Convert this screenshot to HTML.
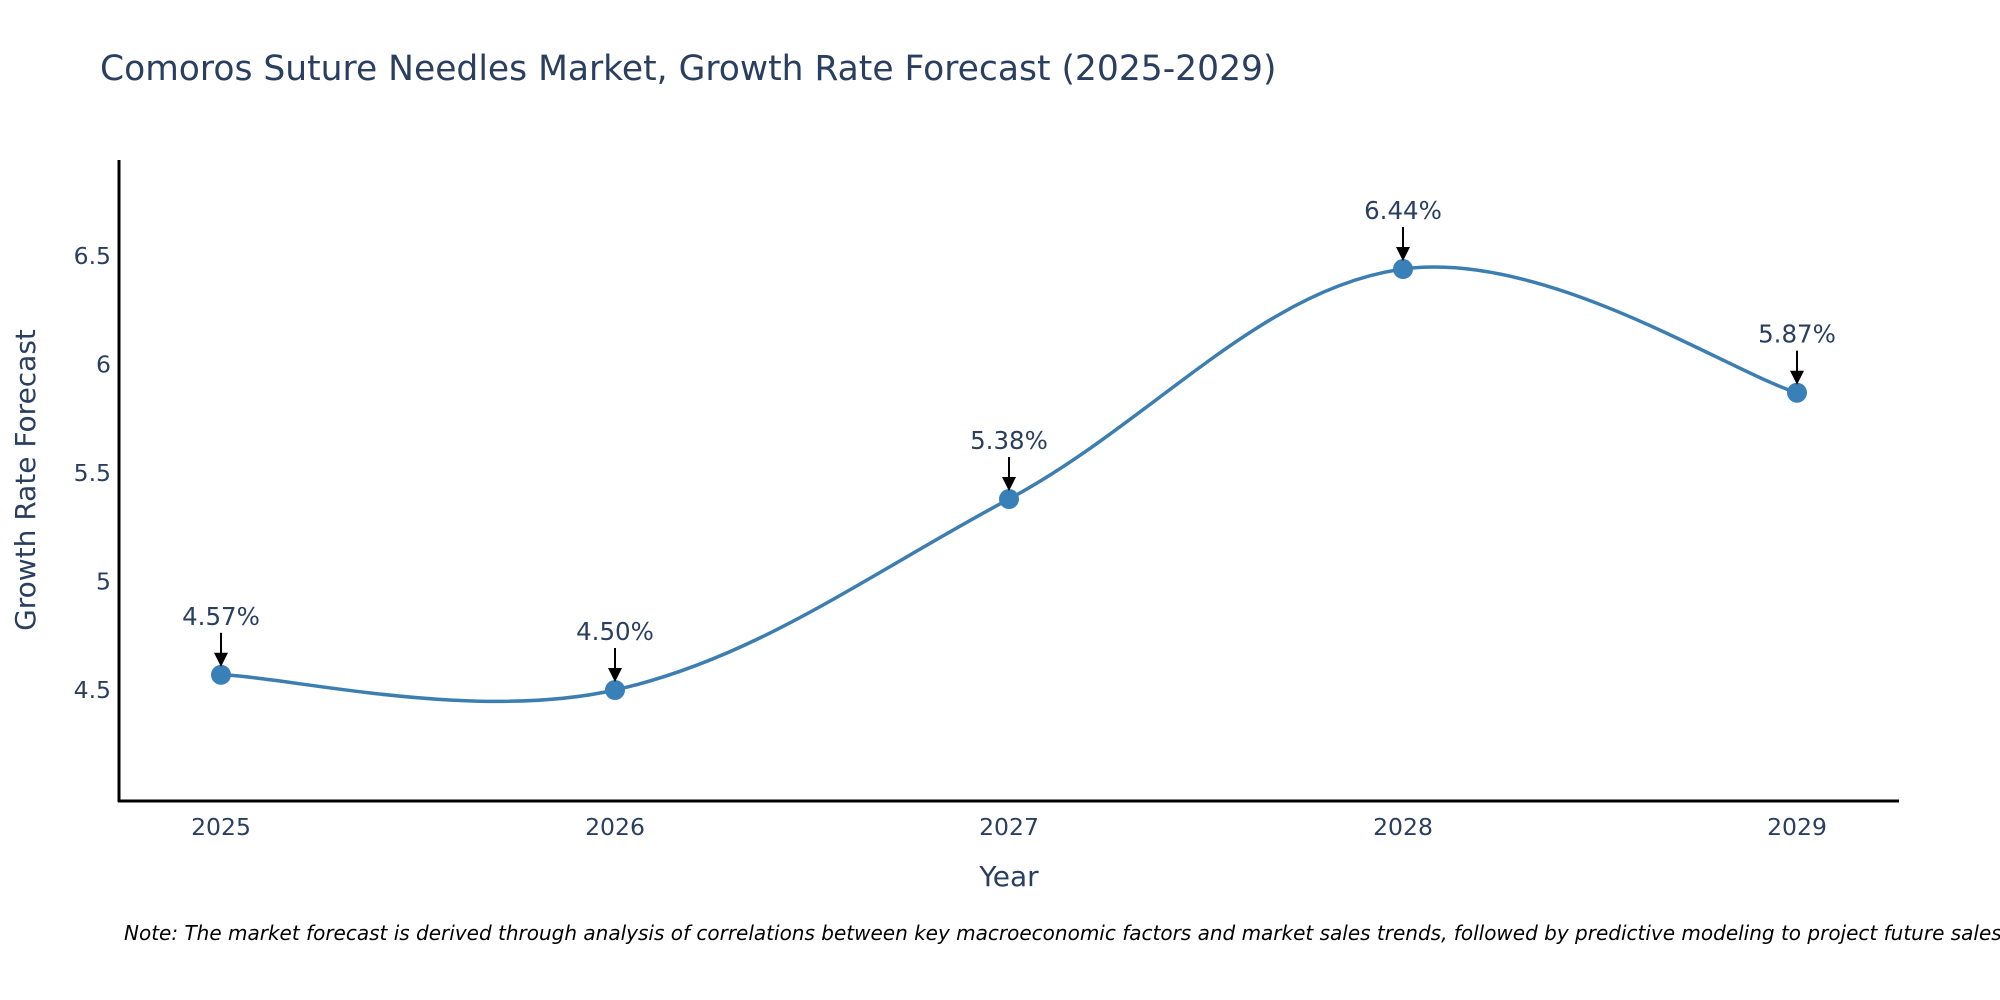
<!DOCTYPE html>
<html><head><meta charset="utf-8"><style>
html,body{margin:0;padding:0;background:#fff;}
svg{display:block;font-family:"DejaVu Sans","Liberation Sans",sans-serif;}
</style></head><body>
<svg id="chart" width="2000" height="1000" viewBox="0 0 2000 1000">
<text x="100" y="80" font-size="34.5" fill="#2a3f5f">Comoros Suture Needles Market, Growth Rate Forecast (2025-2029)</text>
<g id="yticks"></g>
<g id="xticks"></g>
<line x1="119" y1="160" x2="119" y2="802" stroke="#000" stroke-width="3"/>
<line x1="118" y1="801" x2="1899" y2="801" stroke="#000" stroke-width="3"/>
<text transform="translate(35,480) rotate(-90)" text-anchor="middle" font-size="28" fill="#2a3f5f">Growth Rate Forecast</text>
<text x="1009" y="886" text-anchor="middle" font-size="28" fill="#2a3f5f">Year</text>
<g id="series"></g>
<g id="annots"></g>
<text x="124" y="940" font-size="20" font-style="italic" fill="#000">Note: The market forecast is derived through analysis of correlations between key macroeconomic factors and market sales trends, followed by predictive modeling to project future sales.</text>
</svg>
<script>
const years = ["2025","2026","2027","2028","2029"];
const values = [4.57, 4.50, 5.38, 6.44, 5.87];
const labels = ["4.57%","4.50%","5.38%","6.44%","5.87%"];
const yTicks = [4.5, 5, 5.5, 6, 6.5];
const yTickLabels = ["4.5","5","5.5","6","6.5"];

const NS = "http://www.w3.org/2000/svg";
function xPos(i){ return 221 + i*394; }
function yPos(v){ return 690 - (v-4.5)*217; }
function mk(tag, attrs, parent){
  const e = document.createElementNS(NS, tag);
  for (const k in attrs) e.setAttribute(k, attrs[k]);
  parent.appendChild(e); return e;
}
const yt = document.getElementById('yticks');
yTicks.forEach((v,i)=>{
  const t = mk('text',{x:111,y:yPos(v)+8,'text-anchor':'end','font-size':23.5,fill:'#2a3f5f'},yt);
  t.textContent = yTickLabels[i];
  
  
});
const xt = document.getElementById('xticks');
years.forEach((y,i)=>{
  const t = mk('text',{x:xPos(i),y:835,'text-anchor':'middle','font-size':23.5,fill:'#2a3f5f'},xt);
  t.textContent = y;
  
  
});
const pts = values.map((v,i)=>[xPos(i), yPos(v)]);
let d = `M${pts[0][0]},${pts[0][1]}`;
const s = 0.18;
for (let i=0;i<pts.length-1;i++){
  const p0 = pts[Math.max(i-1,0)], p1 = pts[i], p2 = pts[i+1], p3 = pts[Math.min(i+2,pts.length-1)];
  const c1 = [p1[0]+(p2[0]-p0[0])*s, p1[1]+(p2[1]-p0[1])*s];
  const c2 = [p2[0]-(p3[0]-p1[0])*s, p2[1]-(p3[1]-p1[1])*s];
  d += ` C${c1[0]},${c1[1]} ${c2[0]},${c2[1]} ${p2[0]},${p2[1]}`;
}
const sg = document.getElementById('series');
const line = mk('path',{d:d,fill:'none',stroke:'#3d7eb0','stroke-width':3.5},sg);


pts.forEach((p,i)=>{
  const c = mk('circle',{cx:p[0],cy:p[1],r:10,fill:'#3a80b8'},sg);
  
  
});
const ag = document.getElementById('annots');
pts.forEach((p,i)=>{
  const g = mk('g',{},ag);
  
  
  const t = mk('text',{x:p[0],y:p[1]-50,'text-anchor':'middle','font-size':24.5,fill:'#2a3f5f'},g);
  t.textContent = labels[i];
  mk('line',{x1:p[0],y1:p[1]-42,x2:p[0],y2:p[1]-18,stroke:'#000','stroke-width':2},g);
  mk('path',{d:`M${p[0]-7},${p[1]-22} L${p[0]+7},${p[1]-22} L${p[0]},${p[1]-8} Z`,fill:'#000'},g);
});
</script>
</body></html>
